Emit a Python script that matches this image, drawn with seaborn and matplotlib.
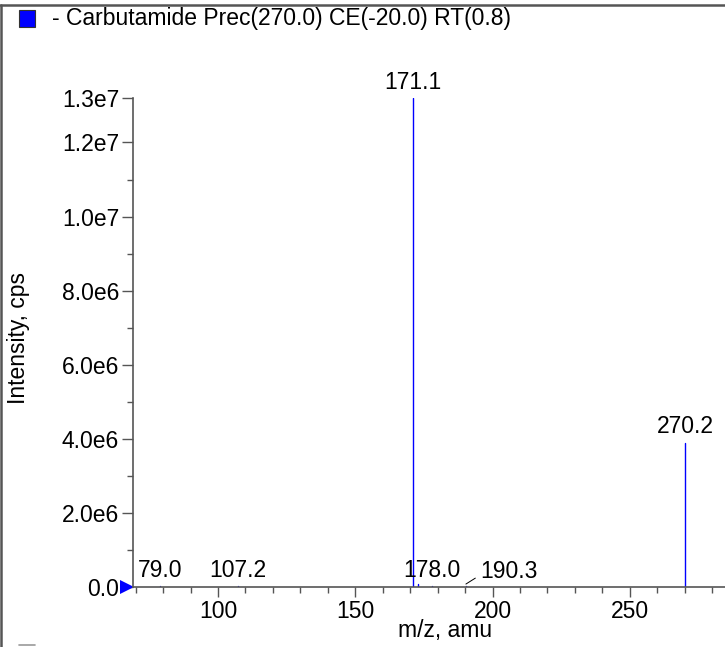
import matplotlib
matplotlib.use("Agg")
import matplotlib.pyplot as plt
import seaborn as sns
import pandas as pd
from matplotlib.patches import Rectangle
from matplotlib.lines import Line2D
import matplotlib.transforms as mtransforms
from matplotlib.ticker import MultipleLocator, FixedLocator

# ---- data ----
peak_mz = [79.0, 107.2, 171.1, 173.0, 178.0, 190.3, 270.2]
peak_int = [3.0e4, 3.0e4, 1.32e7, 8.0e4, 3.0e4, 3.0e4, 3.9e6]
label_mz = [79.0, 107.2, 171.1, 178.0, 190.3, 270.2]
label_int = [3.0e4, 3.0e4, 1.32e7, 3.0e4, 3.0e4, 3.9e6]
label_text = ["79.0", "107.2", "171.1", "178.0", "190.3", "270.2"]
y_major = [0, 2e6, 4e6, 6e6, 8e6, 1.0e7, 1.2e7, 1.32e7]
y_major_labels = ["0.0", "2.0e6", "4.0e6", "6.0e6", "8.0e6", "1.0e7", "1.2e7", "1.3e7"]
title_text = "- Carbutamide Prec(270.0) CE(-20.0) RT(0.8)"

sns.set_theme(style="white")
plt.rcParams['font.family'] = ['Liberation Sans', 'DejaVu Sans']

fig = plt.figure(figsize=(7.25, 6.47), dpi=100)
ax = fig.add_axes([0.1834, 0.0927, 1.0 - 0.1834, 0.8485 - 0.0927])

rows = []
for i, (m, h) in enumerate(zip(peak_mz, peak_int)):
    rows.append({"peak": i, "mz": m, "intensity": 0.0})
    rows.append({"peak": i, "mz": m, "intensity": h})
df = pd.DataFrame(rows)
sns.lineplot(data=df, x="mz", y="intensity", units="peak", estimator=None,
             sort=False, color="#0000ff", lw=1.0, ax=ax, legend=False)

ax.set_xlim(69.0, 284.7)
ax.set_ylim(0, 1.32e7)

fs = 16.5
# peak labels
for m, h, t in zip(label_mz, label_int, label_text):
    if t == "190.3":
        ax.annotate(t, xy=(m, h + 5.0e4), xytext=(10, 0.5), textcoords="offset points",
                    ha="left", va="bottom", fontsize=fs, color="black",
                    arrowprops=dict(arrowstyle="-", color="black", lw=0.7,
                                    shrinkA=1, shrinkB=0,
                                    relpos=(0.0, 0.35)))
    else:
        ax.annotate(t, xy=(m, h), xytext=(0, 3), textcoords="offset points",
                    ha="center", va="bottom", fontsize=fs, color="black")

# ticks
ax.xaxis.set_major_locator(MultipleLocator(50))
ax.xaxis.set_minor_locator(MultipleLocator(10))
ax.yaxis.set_major_locator(FixedLocator(y_major))
ax.set_yticklabels(y_major_labels)
ax.yaxis.set_minor_locator(FixedLocator([1e6, 3e6, 5e6, 7e6, 9e6, 1.1e7]))
ax.tick_params(axis="both", which="major", direction="out", length=7, width=1,
               color="#555555", labelsize=fs, labelcolor="black", pad=2,
               bottom=True, left=True)
ax.tick_params(axis="both", which="minor", direction="out", length=4, width=1,
               color="#555555", bottom=True, left=True)
ax.tick_params(axis="y", which="major", length=8)

for s in ["top", "right"]:
    ax.spines[s].set_visible(False)
for s in ["left", "bottom"]:
    ax.spines[s].set_color("#555555")
    ax.spines[s].set_linewidth(1.2)

ax.set_xlabel("")
ax.set_ylabel("")
fig.text(445 / 725, 1 - 631 / 647, "m/z, amu", fontsize=fs, ha="center",
         va="center", color="black")
fig.text(19 / 725, 1 - 338 / 647, "Intensity, cps", fontsize=fs, ha="center",
         va="center", rotation=90, color="black")

# baseline marker triangle
trans = mtransforms.blended_transform_factory(ax.transAxes, ax.transData)
ax.plot([-0.01], [0], marker=">", markersize=10, color="#0000ff",
        transform=trans, clip_on=False, markeredgewidth=0)

# header: legend square and title
fig.patches.append(Rectangle((19 / 725, 1 - 27 / 647), 16 / 725, 17 / 647,
                             transform=fig.transFigure, facecolor="#0000ff",
                             edgecolor="#333333", lw=0.8))
fig.text(52 / 725, 1 - 19 / 647, title_text, fontsize=fs, ha="left",
         va="center", color="black")

# frame lines
fig.lines.append(Line2D([0, 1], [1 - 5 / 647, 1 - 5 / 647], transform=fig.transFigure,
                        color="#555555", lw=1.8))
fig.lines.append(Line2D([1 / 725, 1 / 725], [0, 1 - 5 / 647], transform=fig.transFigure,
                        color="#555555", lw=1.8))
fig.lines.append(Line2D([19 / 725, 35 / 725], [1 - 645 / 647, 1 - 645 / 647],
                        transform=fig.transFigure, color="#999999", lw=1.2))

fig.savefig("out.png", dpi=100)
